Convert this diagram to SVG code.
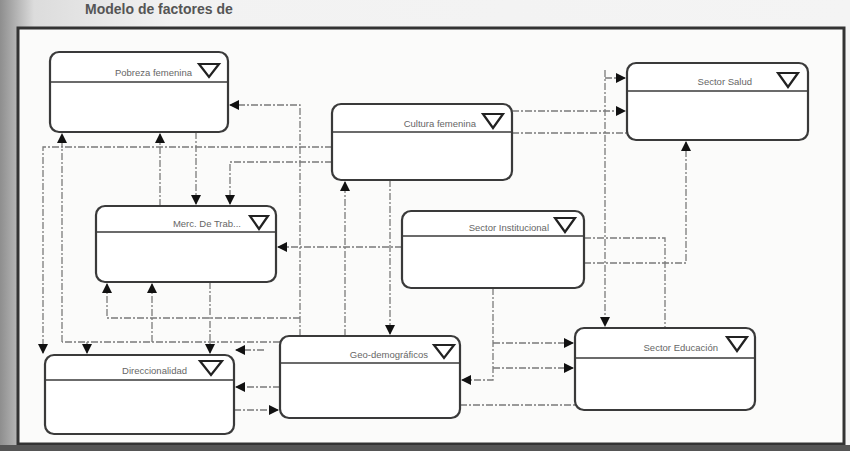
<svg xmlns="http://www.w3.org/2000/svg" width="850" height="451" viewBox="0 0 850 451">
<defs>
<linearGradient id="lg" x1="0" y1="0" x2="1" y2="0">
<stop offset="0" stop-color="#8e8e8e"/><stop offset="0.04" stop-color="#dcdcdc"/><stop offset="0.2" stop-color="#f2f2f2"/><stop offset="1" stop-color="#f4f4f4"/>
</linearGradient>
<marker id="ah" viewBox="0 0 10 10" refX="9" refY="5" markerWidth="10" markerHeight="10" markerUnits="userSpaceOnUse" orient="auto">
<path d="M0,0 L10,5 L0,10 z" fill="#111"/>
</marker>
<style>
.box{fill:#fff;stroke:#3a3a3a;stroke-width:2.2}
.hdr{stroke:#3a3a3a;stroke-width:1.6}
.tri{fill:none;stroke:#222;stroke-width:2.2;stroke-linejoin:miter}
.lbl{font-family:"Liberation Sans",Arial,sans-serif;font-size:9.5px;fill:#666;text-anchor:end}
.c{fill:none;stroke:#7a7a7a;stroke-width:1.3;stroke-dasharray:7 2 2 2}
.a{marker-end:url(#ah)}
</style>
</defs>
<rect x="0" y="0" width="850" height="451" fill="url(#lg)"/>
<text x="85" y="14" font-family="Liberation Sans,Arial,sans-serif" font-size="14" font-weight="bold" fill="#555">Modelo de factores de</text>
<rect x="18" y="28" width="826" height="416" fill="#fbfbfa" stroke="#333" stroke-width="3"/>
<rect x="0" y="445" width="850" height="6" fill="#555"/>
<g id="connectors">
<path class="c a" d="M300,336 V105 H230"/>
<path class="c a" d="M345,336 V182"/>
<path class="c a" d="M390,180 V334"/>
<path class="c a" d="M332,147 H43 V353"/>
<path class="c a" d="M62,342 V134"/>
<path class="c a" d="M160,206 V134"/>
<path class="c a" d="M196,132 V204"/>
<path class="c a" d="M332,162 H230 V204"/>
<path class="c a" d="M512,111 H625"/>
<path class="c" d="M512,133 H627"/>
<path class="c a" d="M605,70 V326"/>
<path class="c a" d="M605,78 H625"/>
<path class="c a" d="M402,247 H278"/>
<path class="c a" d="M584,263 H686 V142"/>
<path class="c" d="M584,238 H665 V328"/>
<path class="c a" d="M493,288 V380 H462"/>
<path class="c a" d="M493,343 H573"/>
<path class="c a" d="M493,368 H573"/>
<path class="c" d="M460,405 H575"/>
<path class="c a" d="M300,318 H107 V284"/>
<path class="c a" d="M152,342 V284"/>
<path class="c a" d="M210,282 V353"/>
<path class="c" d="M280,342 H62"/>
<path class="c a" d="M87,342 V353"/>
<path class="c a" d="M264,350 H236"/>
<path class="c a" d="M280,387 H236"/>
<path class="c a" d="M234,410 H278"/>
</g>
<g id="pobreza">
<rect class="box" x="50" y="52" width="178" height="80" rx="9"/>
<line class="hdr" x1="51" y1="82" x2="227" y2="82"/>
<text class="lbl" x="192" y="76">Pobreza femenina</text>
<path class="tri" d="M199,64 H219 L209,77 Z"/>
</g>
<g id="cultura">
<rect class="box" x="332" y="104" width="180" height="76" rx="9"/>
<line class="hdr" x1="333" y1="132" x2="511" y2="132"/>
<text class="lbl" x="476" y="127">Cultura femenina</text>
<path class="tri" d="M483,114 H503 L493,128 Z"/>
</g>
<g id="salud">
<rect class="box" x="627" y="63" width="181" height="77" rx="9"/>
<line class="hdr" x1="628" y1="91" x2="807" y2="91"/>
<text class="lbl" x="752" y="85">Sector Salud</text>
<path class="tri" d="M778,73 H798 L788,87 Z"/>
</g>
<g id="merc">
<rect class="box" x="96" y="206" width="180" height="76" rx="9"/>
<line class="hdr" x1="97" y1="232" x2="275" y2="232"/>
<text class="lbl" x="241" y="227">Merc. De Trab...</text>
<path class="tri" d="M250,216 H268 L259,229 Z"/>
</g>
<g id="institucional">
<rect class="box" x="402" y="211" width="182" height="77" rx="9"/>
<line class="hdr" x1="403" y1="236" x2="583" y2="236"/>
<text class="lbl" x="549" y="231">Sector Institucional</text>
<path class="tri" d="M555,218 H575 L565,232 Z"/>
</g>
<g id="direccionalidad">
<rect class="box" x="45" y="355" width="189" height="79" rx="9"/>
<line class="hdr" x1="46" y1="380" x2="233" y2="380"/>
<text class="lbl" x="187" y="374">Direccionalidad</text>
<path class="tri" d="M200,361 H222 L211,375 Z"/>
</g>
<g id="geo">
<rect class="box" x="280" y="336" width="180" height="82" rx="9"/>
<line class="hdr" x1="281" y1="363" x2="459" y2="363"/>
<text class="lbl" x="428" y="358">Geo-demográficos</text>
<path class="tri" d="M434,345 H454 L444,358 Z"/>
</g>
<g id="educacion">
<rect class="box" x="575" y="328" width="180" height="82" rx="9"/>
<line class="hdr" x1="576" y1="358" x2="754" y2="358"/>
<text class="lbl" x="718" y="351">Sector Educación</text>
<path class="tri" d="M727,337 H747 L737,351 Z"/>
</g>
</svg>
